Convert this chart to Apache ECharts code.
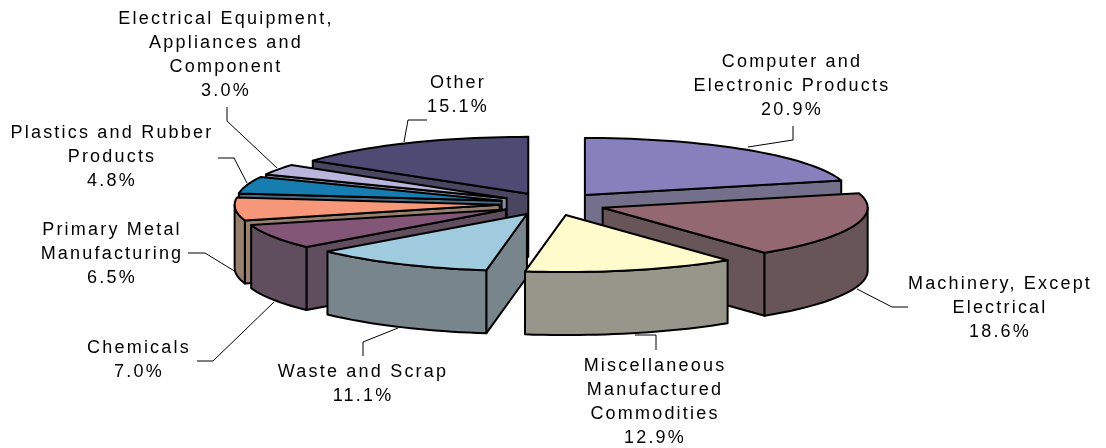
<!DOCTYPE html>
<html><head><meta charset="utf-8">
<style>html,body{margin:0;padding:0;background:#fff}#c{width:1106px;height:448px}</style>
<script src="https://cdn.jsdelivr.net/npm/echarts@6/dist/echarts.min.js"></script>
</head><body><div id="c"></div>
<script>
// DATA
const categories = ['Computer and\nElectronic Products','Machinery, Except\nElectrical','Miscellaneous\nManufactured\nCommodities','Waste and Scrap','Chemicals','Primary Metal\nManufacturing','Plastics and Rubber\nProducts','Electrical Equipment,\nAppliances and\nComponent','Other'];
const shares = [20.9,18.6,12.9,11.1,7.0,6.5,4.8,3.0,15.1];

// STYLE
const topColors  = ['#8880BC','#946870','#FFFBCC','#A0CBDE','#835677','#F79779','#177DB0','#B9B5DC','#4F4A73'];
const sideColors = ['#74708C','#675558','#96968A','#78858D','#604E5E','#98806F','#4A6B80','#8F8CA8','#4A4660'];
// LAYOUT
const pie = {cx:552.5, cy:204, rx:265, ry:57, depth:63, explode:0.2};
const labelPos = [[792,86],[1000,308],[655,402],[363,384],[139,360],[112,254],[112,157],[226,55],[458,95]];
const leaders = [
 [[793,126],[793,140],[748,147]],
 [[908,307],[892,307],[857,289]],
 [[656,350],[656,335],[635,335]],
 [[363,356],[363,342],[398,328]],
 [[197,361],[213,361],[274,302]],
 [[188,253],[205,253],[236,272]],
 [[218,158],[234,158],[247,183]],
 [[227,107],[227,121],[277,168]],
 [[427,120],[408,120],[404,142]]
];

// Wide tracking of the original labels
const proto = CanvasRenderingContext2D.prototype, ft = proto.fillText;
proto.fillText = function(){ this.letterSpacing='2.2px'; return ft.apply(this, arguments); };

const total = shares.reduce((a,b)=>a+b,0);
let acc = 0;
const rad = d => d*Math.PI/180;
const slices = shares.map((v,i)=>{
  const s = acc/total*360; acc += v; const e = acc/total*360, m = rad((s+e)/2);
  return {i, v, s, e,
    ax: pie.cx + pie.explode*pie.rx*Math.sin(m),
    ay: pie.cy - pie.explode*pie.ry*Math.cos(m)};
});
const order = slices.slice().sort((a,b)=>a.ay-b.ay);

function renderSlice(params, api){
  const sl = order[params.dataIndex];
  const P = (deg,dz)=>[sl.ax+pie.rx*Math.sin(rad(deg)), sl.ay-pie.ry*Math.cos(rad(deg))+(dz||0)];
  const A = [sl.ax,sl.ay], A2=[sl.ax,sl.ay+pie.depth];
  const st = {stroke:'#000',lineWidth:2,lineJoin:'round'};
  const poly = (pts,fill)=>({type:'polygon',shape:{points:pts},style:Object.assign({fill},st),silent:true});
  const arc = (a,b,dz)=>{const n=Math.max(2,Math.ceil((b-a)/2)),o=[];for(let k=0;k<=n;k++)o.push(P(a+(b-a)*k/n,dz));return o;};
  const ch=[], side=sideColors[sl.i];
  if(Math.sin(rad(sl.s))<-1e-6) ch.push(poly([A,P(sl.s),P(sl.s,pie.depth),A2],side));
  if(Math.sin(rad(sl.e))>1e-6) ch.push(poly([A,P(sl.e),P(sl.e,pie.depth),A2],side));
  const w0=Math.max(sl.s,90), w1=Math.min(sl.e,270);
  if(w1>w0) ch.push(poly(arc(w0,w1,0).concat(arc(w0,w1,pie.depth).reverse()),side));
  ch.push(poly([A].concat(arc(sl.s,sl.e,0)),topColors[sl.i]));
  return {type:'group',children:ch};
}
function renderLabel(params, api){
  const i = api.value(1), pos = labelPos[i];
  return {type:'group',silent:true,children:[
    {type:'polyline',shape:{points:leaders[i]},style:{stroke:'#000',lineWidth:1,fill:null}},
    {type:'text',style:{text:categories[i]+'\n'+api.value(0).toFixed(1)+'%',x:pos[0],y:pos[1],align:'center',verticalAlign:'middle',
      font:'18px "Liberation Sans", Arial, sans-serif',lineHeight:24,fill:'#000'}}
  ]};
}
const chart = echarts.init(document.getElementById('c'));
chart.setOption({
  animation:false,
  backgroundColor:'#fff',
  series:[
    {type:'custom',coordinateSystem:'none',renderItem:renderSlice,
     encode:{value:0},data:order.map(o=>({name:categories[o.i],value:[o.v,o.i]}))},
    {type:'custom',coordinateSystem:'none',renderItem:renderLabel,z:3,
     encode:{value:0},data:shares.map((v,i)=>({name:categories[i],value:[v,i]}))}
  ]
});
</script></body></html>
